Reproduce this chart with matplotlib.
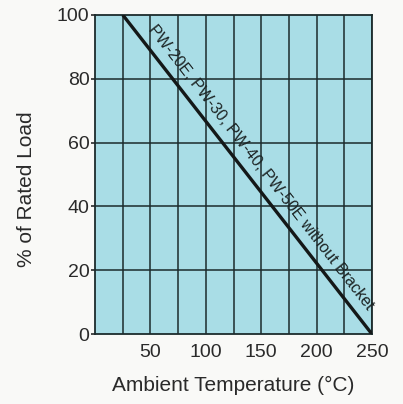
import numpy as np
import matplotlib.pyplot as plt

# derating curve
temps = [25, 250]
load = [100, 0]
curve_label = 'PW-20E, PW-30, PW-40, PW-50E without Bracket'

x_ticks = [50, 100, 150, 200, 250]
y_ticks = [0, 20, 40, 60, 80, 100]
x_grid = [25, 50, 75, 100, 125, 150, 175, 200, 225, 250]

plt.rcParams['font.family'] = ['Liberation Sans', 'DejaVu Sans']

fig = plt.figure(figsize=(4.03, 4.04), dpi=100, facecolor='#f9f9f7')
ax = fig.add_axes([0.236, 0.173, 0.687, 0.790])
ax.set_facecolor('#a9dde6')

ax.set_xlim(0, 250)
ax.set_ylim(0, 100)

# grid
for gx in x_grid:
    ax.axvline(gx, color='#1c2b2c', lw=1.1, zorder=1)
for gy in y_ticks[1:-1]:
    ax.axhline(gy, color='#1c2b2c', lw=1.1, zorder=1)

ax.plot(temps, load, color='#141818', lw=2.4, zorder=3, solid_capstyle='butt')

# label along the line, offset to its upper right side
p0 = ax.transData.transform((temps[0], load[0]))
p1 = ax.transData.transform((temps[1], load[1]))
d = p1 - p0
angle = np.degrees(np.arctan2(d[1], d[0]))
normal = np.array([-d[1], d[0]]) / np.hypot(*d)
if normal[0] < 0:
    normal = -normal
xm = 139
ym = load[0] + (xm - temps[0]) * (load[1] - load[0]) / (temps[1] - temps[0])
off = normal * 15
ax.annotate(curve_label, (xm, ym), xytext=(off[0], off[1]), textcoords='offset pixels',
            rotation=angle, rotation_mode='anchor', ha='center', va='center',
            fontsize=11.5, color='#1c2424', zorder=4)

for s in ax.spines.values():
    s.set_color('#1c2b2c')
    s.set_linewidth(1.3)

ax.set_xticks(x_ticks)
ax.set_yticks(y_ticks)
ax.tick_params(axis='x', length=0, pad=7, labelsize=14, colors='#2a2a2a')
ax.tick_params(axis='y', length=3, width=1.2, pad=1, labelsize=14, colors='#2a2a2a')

ax.set_xlabel('Ambient Temperature (°C)', fontsize=15, color='#2a2a2a', labelpad=11)
ax.set_ylabel('% of Rated Load', fontsize=15, color='#2a2a2a')
ax.yaxis.set_label_coords(-0.213, 0.455)

fig.savefig('out.png', dpi=100, facecolor=fig.get_facecolor())
